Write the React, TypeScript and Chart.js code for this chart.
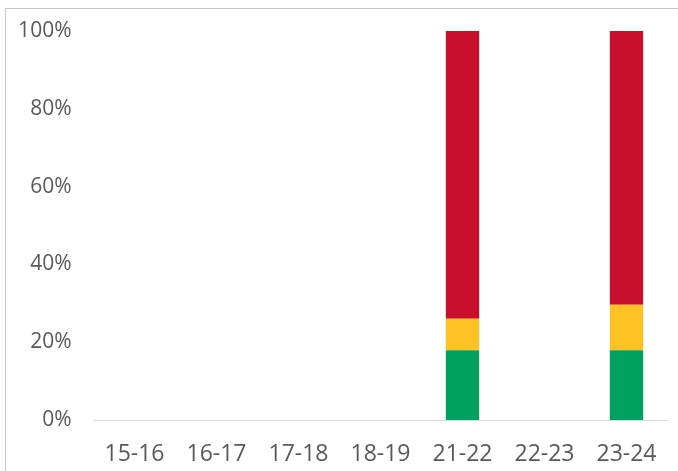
import React, { useEffect, useRef } from "react";
import { Chart, registerables } from "chart.js";

Chart.register(...registerables);

const categories = ["15-16", "16-17", "17-18", "18-19", "21-22", "22-23", "23-24"];
const greenValues = [null, null, null, null, 17.9, null, 17.9];
const yellowValues = [null, null, null, null, 8.1, null, 11.7];
const redValues = [null, null, null, null, 74.0, null, 70.4];
const yTicks = [0, 20, 40, 60, 80, 100];

const FONT = "'Open Sans', 'Liberation Sans', sans-serif";
const TEXT = "#595959";

export default function App() {
  const ref = useRef<HTMLCanvasElement | null>(null);

  useEffect(() => {
    if (!ref.current) return;
    const chart = new Chart(ref.current, {
      type: "bar",
      data: {
        labels: categories,
        datasets: [
          { label: "Green", data: greenValues as any, backgroundColor: "#00A160", borderWidth: 0 },
          { label: "Yellow", data: yellowValues as any, backgroundColor: "#FFC224", borderWidth: 0 },
          { label: "Red", data: redValues as any, backgroundColor: "#C8102E", borderWidth: 0 },
        ],
      },
      options: {
        responsive: false,
        animation: false,
        devicePixelRatio: 1,
        layout: { padding: { top: 31, left: 0, right: 10.5, bottom: 0 } },
        plugins: { legend: { display: false }, tooltip: { enabled: false } },
        datasets: { bar: { barPercentage: 0.407, categoryPercentage: 1 } },
        scales: {
          x: {
            stacked: true,
            grid: { display: false, drawTicks: false },
            border: { display: true, color: "#d9d9d9", width: 1 },
            ticks: {
              color: TEXT,
              font: { family: FONT, size: 23 },
              padding: 21,
              maxRotation: 0,
              autoSkip: false,
            },
            afterFit: (scale: any) => {
              scale.height = 51;
              scale.paddingLeft = 0;
              scale.paddingRight = 0;
            },
          },
          y: {
            stacked: true,
            min: 0,
            max: 100,
            grid: { display: false, drawTicks: false },
            border: { display: false },
            afterBuildTicks: (scale: any) => {
              scale.ticks = yTicks.map((v) => ({ value: v }));
            },
            ticks: {
              color: TEXT,
              font: { family: FONT, size: 21 },
              padding: 22,
              callback: (v: any) => v + "%",
            },
            afterFit: (scale: any) => {
              scale.width = 93.5;
              scale.paddingTop = 0;
              scale.paddingBottom = 0;
            },
          },
        },
      },
    });
    return () => chart.destroy();
  }, []);

  return (
    <div
      style={{
        position: "fixed",
        left: 0,
        top: 0,
        width: 678,
        height: 471,
        overflow: "hidden",
        background: "#ffffff",
      }}
    >
      <div
        style={{
          position: "absolute",
          left: 5,
          top: 8,
          width: 720,
          height: 520,
          border: "1px solid #c6c6c6",
          boxSizing: "border-box",
        }}
      />
      <canvas
        ref={ref}
        width={678}
        height={471}
        style={{ position: "absolute", left: 0, top: 0, width: 678, height: 471 }}
      />
    </div>
  );
}
